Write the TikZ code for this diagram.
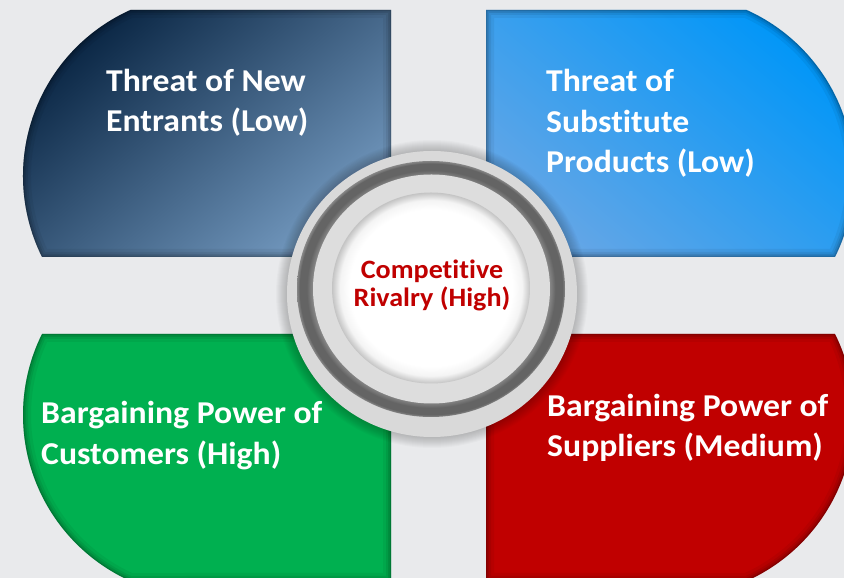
\documentclass[tikz,border=0pt]{standalone}
\usepackage{fontspec}
\setmainfont{Carlito}[FakeStretch=1.06, Ligatures=NoCommon]

% palette
\definecolor{bg}{RGB}{233,234,236}
\definecolor{navyA}{RGB}{10,38,68}
\definecolor{navyB}{RGB}{114,152,190}
\definecolor{skyA}{RGB}{0,150,248}
\definecolor{skyB}{RGB}{100,166,230}
\definecolor{leafgreen}{RGB}{0,176,80}
\definecolor{deepred}{RGB}{192,0,0}
\definecolor{ringlight}{RGB}{217,217,217}
\definecolor{ringmid}{RGB}{221,221,221}
\definecolor{gIn}{RGB}{140,140,140}
\definecolor{gDark}{RGB}{100,100,100}
\definecolor{gEdge}{RGB}{135,135,135}
\definecolor{wMid}{RGB}{244,244,244}
\definecolor{wEdge}{RGB}{196,196,196}

% groove between the outer ring and the raised inner ring (path edge = 25bp)
\pgfdeclareradialshading{groove}{\pgfpoint{0bp}{0bp}}{%
  color(0bp)=(gIn); color(22bp)=(gIn); color(23.2bp)=(gDark);
  color(24.5bp)=(gDark); color(25bp)=(gEdge); color(50bp)=(gEdge)}
% hub face with a soft inner shadow at its rim
\pgfdeclareradialshading{hubface}{\pgfpoint{0bp}{0bp}}{%
  color(0bp)=(white); color(20.5bp)=(white); color(23bp)=(wMid);
  color(25bp)=(wEdge); color(50bp)=(wEdge)}

\tikzset{
  quadtext/.style={text=white, font=\fontsize{31.8}{40.5}\selectfont\bfseries,
    align=left, anchor=base west, inner sep=0pt},
  coretext/.style={text=deepred, font=\fontsize{26.5}{28.4}\selectfont\bfseries,
    align=center, anchor=base, inner sep=0pt},
}

% soft shadow along the inside of a closed outline
\newcommand\insideshadow[1]{%
  \begin{scope}
    \clip #1;
    \foreach \w/\o in {16/0.05, 10/0.07, 6/0.09, 2.5/0.14}{%
      \draw[line width=\w pt, black, opacity=\o] #1;}
  \end{scope}}

% the four outer blocks
\def\tlshape{(391,568) -- (130.38,568) arc[start angle=114.2, end angle=206.43, radius=182] -- (391,321) -- cycle}
\def\trshape{(486,568) -- (746.62,568) arc[start angle=65.8, end angle=-26.43, radius=182] -- (486,321) -- cycle}
\def\blshape{(391,244) -- (42.02,244) arc[start angle=153.57, end angle=245.8, radius=182] -- (391,-3) -- cycle}
\def\brshape{(486,244) -- (834.98,244) arc[start angle=26.43, end angle=-65.8, radius=182] -- (486,-3) -- cycle}

\begin{document}
\begin{tikzpicture}[x=1pt,y=1pt]
\useasboundingbox (0,0) rectangle (844,578);
\begin{scope}
\clip (0,0) rectangle (844,578);
\fill[bg] (0,0) rectangle (844,578);

% blocks
\shade[top color=navyA, bottom color=navyB, shading angle=40] \tlshape;
\insideshadow{\tlshape}
\shade[top color=skyA, bottom color=skyB, shading angle=-40] \trshape;
\insideshadow{\trshape}
\fill[leafgreen] \blshape;
\insideshadow{\blshape}
\fill[deepred] \brshape;
\insideshadow{\brshape}

% hub: drop shadow
\foreach \k in {1,...,11}{%
  \fill[black, opacity=0.02] (432,284) ellipse [x radius=145+\k, y radius=143+\k];}
% hub: outer ring, groove, inner ring, face
\fill[ringlight] (432,284) ellipse [x radius=145, y radius=143];
\shade[shading=groove] (431,289) ellipse [x radius=134, y radius=128];
\fill[ringmid] (431.5,289) ellipse [x radius=118.5, y radius=114.5];
\shade[shading=hubface] (431,290) ellipse [x radius=99, y radius=95.5];
\end{scope}

% labels (anchored on the baseline of the last line)
\node[quadtext] (tl) at (106,446) {Threat of New\\Entrants (Low)};
\node[quadtext] (tr) at (546,405) {Threat of\\Substitute\\Products (Low)};
\node[quadtext] (bl) at (41,113.5) {Bargaining Power of\\Customers (High)};
\node[quadtext] (br) at (547,121) {Bargaining Power of\\Suppliers (Medium)};
\node[coretext] (core) at (432,271.3) {Competitive\\Rivalry (High)};
\end{tikzpicture}
\end{document}
